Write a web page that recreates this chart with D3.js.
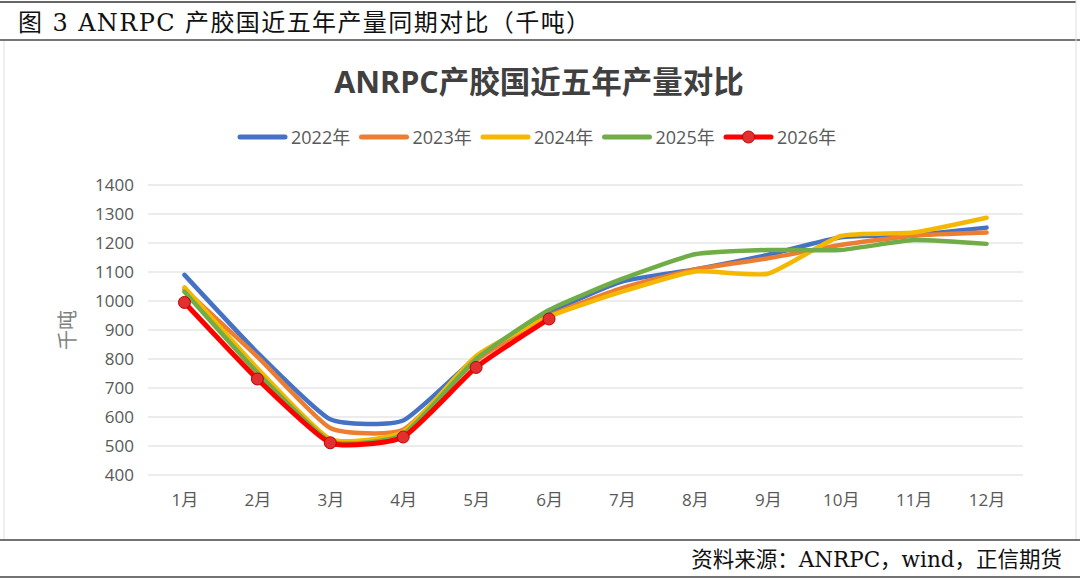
<!DOCTYPE html>
<html>
<head>
<meta charset="utf-8">
<script src="https://cdn.jsdelivr.net/npm/d3@7/dist/d3.min.js"></script>
<style>
  html, body { margin: 0; padding: 0; background: #fff; }
  svg { display: block; }
</style>
</head>
<body>
<svg id="chart" width="1080" height="581"></svg>
<script>
// Data (thousand tonnes)
var months = ['1月', '2月', '3月', '4月', '5月', '6月', '7月', '8月', '9月', '10月', '11月', '12月'];
var years = ['2022年', '2023年', '2024年', '2025年', '2026年'];
var colors = ['#4472c4', '#ed7d31', '#f5b800', '#70ad47', '#ff0000'];
var v2022 = [1090, 822, 592, 588, 805, 960, 1067, 1109, 1159, 1220, 1228, 1253];
var v2023 = [1040, 808, 562, 556, 795, 948, 1044, 1109, 1147, 1193, 1225, 1236];
var v2024 = [1047, 768, 524, 549, 810, 946, 1032, 1102, 1094, 1224, 1236, 1287];
var v2025 = [1032, 753, 516, 540, 800, 969, 1076, 1161, 1176, 1176, 1210, 1197];
var v2026 = [995, 731, 511, 531, 771, 938];
var yTicks = [400, 500, 600, 700, 800, 900, 1000, 1100, 1200, 1300, 1400];

var series = [v2022, v2023, v2024, v2025, v2026];

var svg = d3.select('#chart');
var cjkSerif = '"DejaVu Serif", "Noto Sans CJK SC", serif';
var cjkSans = '"Open Sans", "Noto Sans CJK SC", sans-serif';

// Frame
svg.append('line').attr('x1', 0).attr('x2', 1076).attr('y1', 2).attr('y2', 2)
    .attr('stroke', '#333').attr('stroke-width', 1.5);
svg.append('line').attr('x1', 0).attr('x2', 1080).attr('y1', 40).attr('y2', 40)
    .attr('stroke', '#777').attr('stroke-width', 2);
svg.append('line').attr('x1', 4).attr('x2', 4).attr('y1', 41).attr('y2', 539)
    .attr('stroke', '#e0e0e0').attr('stroke-width', 1);
svg.append('line').attr('x1', 1076).attr('x2', 1076).attr('y1', 0).attr('y2', 539)
    .attr('stroke', '#e0e0e0').attr('stroke-width', 1);
svg.append('line').attr('x1', 0).attr('x2', 1080).attr('y1', 540).attr('y2', 540)
    .attr('stroke', '#444').attr('stroke-width', 1.5);
svg.append('line').attr('x1', 0).attr('x2', 1080).attr('y1', 577).attr('y2', 577)
    .attr('stroke', '#444').attr('stroke-width', 1.5);

// Header and source
svg.append('text')
    .attr('x', 18).attr('y', 31)
    .attr('font-family', cjkSerif).attr('font-size', 24)
    .attr('letter-spacing', 1.4)
    .attr('fill', '#111')
    .text('图 3 ANRPC 产胶国近五年产量同期对比（千吨）');
svg.append('text')
    .attr('x', 1062).attr('y', 567)
    .attr('text-anchor', 'end')
    .attr('font-family', cjkSerif).attr('font-size', 21.5)
    .attr('fill', '#111')
    .text('资料来源：ANRPC，wind，正信期货');

// Chart title
svg.append('text')
    .attr('x', 539).attr('y', 93)
    .attr('text-anchor', 'middle')
    .attr('font-family', cjkSans).attr('font-size', 30.5).attr('font-weight', 'bold')
    .attr('fill', '#404040')
    .text('ANRPC产胶国近五年产量对比');

// Scales
var margin = { left: 148, right: 1023, top: 185, bottom: 475 };
var x = d3.scalePoint().domain(months).range([margin.left, margin.right]).padding(0.5);
var y = d3.scaleLinear().domain([400, 1400]).range([margin.bottom, margin.top]);

// Grid
svg.append('g').selectAll('line')
    .data(yTicks)
    .enter()
    .append('line')
    .attr('x1', margin.left).attr('x2', margin.right)
    .attr('y1', function (d) { return y(d); })
    .attr('y2', function (d) { return y(d); })
    .attr('stroke', '#d9d9d9').attr('stroke-width', 1);

// Axes
var yAxis = svg.append('g')
    .attr('transform', 'translate(' + (margin.left - 14) + ',0)')
    .call(d3.axisLeft(y).tickValues(yTicks).tickFormat(d3.format('d')).tickSize(0).tickPadding(0));
yAxis.select('.domain').remove();
yAxis.selectAll('text')
    .attr('font-family', cjkSans).attr('font-size', 17)
    .attr('fill', '#595959');

var xAxis = svg.append('g')
    .attr('transform', 'translate(0,' + (margin.bottom + 19) + ')')
    .call(d3.axisBottom(x).tickSize(0).tickPadding(0));
xAxis.select('.domain').remove();
xAxis.selectAll('text')
    .attr('font-family', cjkSans).attr('font-size', 17)
    .attr('fill', '#595959');

svg.append('text')
    .attr('transform', 'translate(75,330) rotate(-90)')
    .attr('text-anchor', 'middle')
    .attr('font-family', cjkSans).attr('font-size', 20)
    .attr('fill', '#7f7f7f')
    .text('千吨');

// Lines
var line = d3.line()
    .x(function (d, i) { return x(months[i]); })
    .y(function (d) { return y(d); })
    .curve(d3.curveCardinal.tension(0.5));

var lines = svg.append('g');
series.forEach(function (vals, idx) {
    lines.append('path')
        .datum(vals)
        .attr('d', line)
        .attr('fill', 'none')
        .attr('stroke', colors[idx])
        .attr('stroke-width', idx === 4 ? 5 : 4.5)
        .attr('stroke-linecap', 'round')
        .attr('stroke-linejoin', 'round');
});

// 2026 markers
lines.selectAll('circle')
    .data(v2026)
    .enter()
    .append('circle')
    .attr('cx', function (d, i) { return x(months[i]); })
    .attr('cy', function (d) { return y(d); })
    .attr('r', 6)
    .attr('fill', '#e03030')
    .attr('stroke', '#c00000')
    .attr('stroke-width', 1);

// Legend
var legend = svg.append('g');
var itemW = 121.5, legendX = 238, legendY = 137;
years.forEach(function (name, idx) {
    var g = legend.append('g')
        .attr('transform', 'translate(' + (legendX + idx * itemW) + ',' + legendY + ')');
    g.append('line')
        .attr('x1', 2).attr('x2', 47).attr('y1', 0).attr('y2', 0)
        .attr('stroke', colors[idx]).attr('stroke-width', 5)
        .attr('stroke-linecap', 'round');
    if (idx === 4) {
        g.append('circle')
            .attr('cx', 24.5).attr('cy', 0).attr('r', 6)
            .attr('fill', '#e03030').attr('stroke', '#c00000');
    }
    g.append('text')
        .attr('x', 53).attr('y', 6.5)
        .attr('font-family', cjkSans).attr('font-size', 18)
        .attr('fill', '#595959')
        .text(name);
});
</script>
</body>
</html>
